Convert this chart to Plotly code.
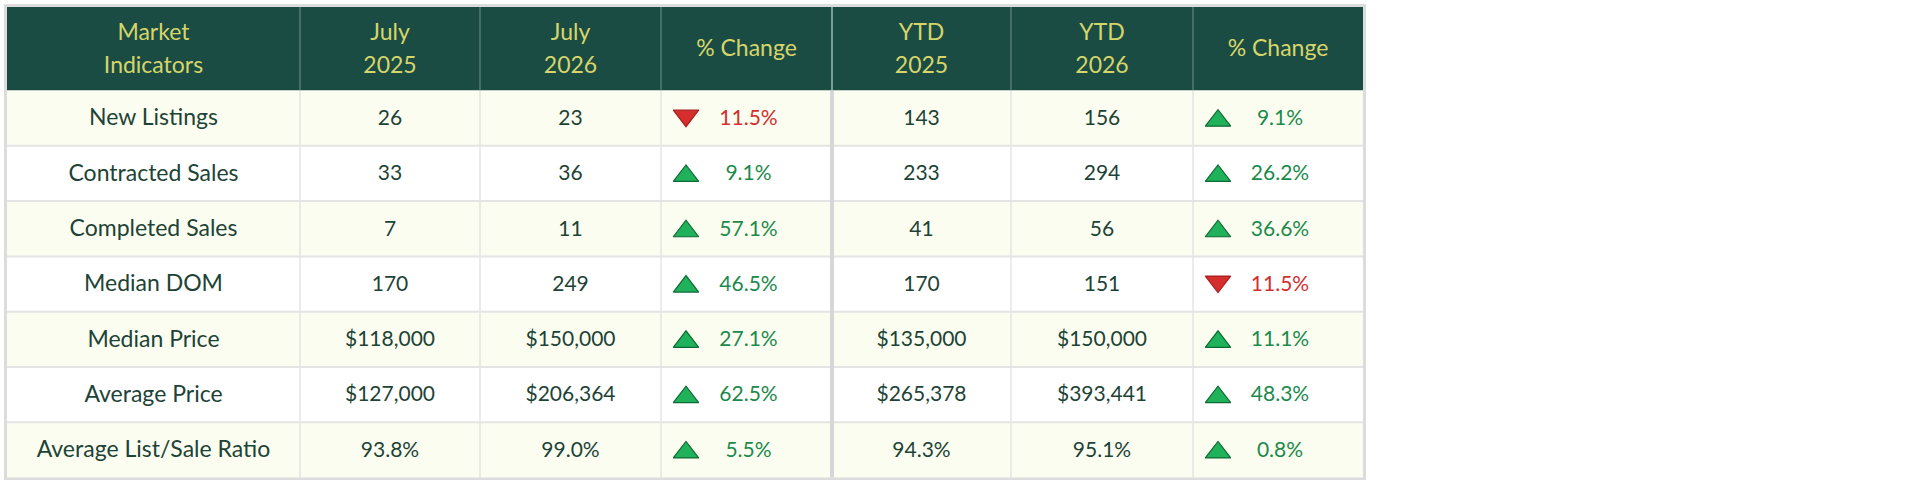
import plotly.graph_objects as go

# ---------------- data ----------------
headers = ["Market<br>Indicators", "July<br>2025", "July<br>2026", "% Change",
           "YTD<br>2025", "YTD<br>2026", "% Change"]
indicators = ["New Listings", "Contracted Sales", "Completed Sales", "Median DOM",
              "Median Price", "Average Price", "Average List/Sale Ratio"]
value_format = ["int", "int", "int", "int", "money", "money", "pct"]
july_2025 = [26, 33, 7, 170, 118000, 127000, 93.8]
july_2026 = [23, 36, 11, 249, 150000, 206364, 99.0]
july_change = [-11.5, 9.1, 57.1, 46.5, 27.1, 62.5, 5.5]
ytd_2025 = [143, 233, 41, 170, 135000, 265378, 94.3]
ytd_2026 = [156, 294, 56, 151, 150000, 393441, 95.1]
ytd_change = [9.1, 26.2, 36.6, -11.5, 11.1, 48.3, 0.8]

# ---------------- layout constants ----------------
W, H = 1920, 480
col_edges = [7, 300, 480, 661, 832, 1011, 1193, 1363]
header_top, header_bottom = 7, 90.5
row_h = 55.3
FONT = "Lato"
HEADER_BG = "#1b4c43"
HEADER_FG = "#d6d56b"
BODY_FG = "#1d4336"
UP_FG = "#1b8a4c"
DOWN_FG = "#d32f2f"
ODD_BG = "#fbfdf0"
GRID = "#e4e4e4"
TEXT_DY = 1.5


def fmt(v, kind):
    if kind == "money":
        return "${:,.0f}".format(v)
    if kind == "pct":
        return "{:.1f}%".format(v)
    return "{:d}".format(int(v))


n_rows = len(indicators)
row_tops = [header_bottom + i * row_h for i in range(n_rows)]
row_mid = [t + row_h / 2 for t in row_tops]
body_bottom = header_bottom + n_rows * row_h
col_mid = [(col_edges[i] + col_edges[i + 1]) / 2 for i in range(len(col_edges) - 1)]

shapes = []
# header background
shapes.append(dict(type="rect", x0=col_edges[0], x1=col_edges[-1], y0=header_top, y1=header_bottom,
                   fillcolor=HEADER_BG, line=dict(width=0), layer="below"))
# row backgrounds
for i, t in enumerate(row_tops):
    shapes.append(dict(type="rect", x0=col_edges[0], x1=col_edges[-1], y0=t, y1=t + row_h,
                       fillcolor=ODD_BG if i % 2 == 0 else "#ffffff", line=dict(width=0), layer="below"))
# horizontal grid lines
for t in row_tops[1:]:
    shapes.append(dict(type="line", x0=col_edges[0], x1=col_edges[-1], y0=t, y1=t,
                       line=dict(color=GRID, width=2), layer="below"))
# vertical lines
for j, x in enumerate(col_edges[1:-1], start=1):
    thick = (j == 4)
    shapes.append(dict(type="line", x0=x, x1=x, y0=header_top, y1=header_bottom,
                       line=dict(color="#7a9e95" if thick else "#5f877e", width=2 if thick else 1.2),
                       layer="below"))
    shapes.append(dict(type="line", x0=x, x1=x, y0=header_bottom, y1=body_bottom,
                       line=dict(color="#d6d6d6" if thick else GRID, width=4 if thick else 1.5),
                       layer="below"))
# outer border
shapes.append(dict(type="rect", x0=col_edges[0] - 1.5, x1=col_edges[-1] + 1.5,
                   y0=header_top - 1.5, y1=body_bottom + 1.5,
                   fillcolor="rgba(0,0,0,0)", line=dict(color="#dcdcdc", width=3)))

fig = go.Figure()

# header text
hx, hy, ht = [], [], []
mid = (header_top + header_bottom) / 2 + TEXT_DY
for j, h in enumerate(headers):
    parts = h.split("<br>")
    if len(parts) == 1:
        hx.append(col_mid[j]); hy.append(mid); ht.append(parts[0])
    else:
        for k, p in enumerate(parts):
            hx.append(col_mid[j]); hy.append(mid + (k - 0.5) * 33); ht.append(p)
fig.add_trace(go.Scatter(x=hx, y=hy, text=ht, mode="text", textposition="middle center",
                         textfont=dict(family=FONT, size=23, color=HEADER_FG),
                         hoverinfo="skip", showlegend=False))

# indicator labels
fig.add_trace(go.Scatter(x=[col_mid[0]] * n_rows, y=[m + TEXT_DY for m in row_mid], text=indicators,
                         mode="text", textposition="middle center",
                         textfont=dict(family=FONT, size=23, color=BODY_FG),
                         hoverinfo="skip", showlegend=False))

# value columns
value_cols = [(1, july_2025), (2, july_2026), (4, ytd_2025), (5, ytd_2026)]
bx, by, bt = [], [], []
for c, vals in value_cols:
    for i, v in enumerate(vals):
        bx.append(col_mid[c]); by.append(row_mid[i] + TEXT_DY); bt.append(fmt(v, value_format[i]))
fig.add_trace(go.Scatter(x=bx, y=by, text=bt, mode="text", textposition="middle center",
                         textfont=dict(family=FONT, size=21, color=BODY_FG),
                         hoverinfo="skip", showlegend=False))

# percent change columns
for c, vals in [(3, july_change), (6, ytd_change)]:
    up = [v >= 0 for v in vals]
    fig.add_trace(go.Scatter(
        x=[col_mid[c] + 2] * n_rows, y=[m + TEXT_DY for m in row_mid],
        text=["{:.1f}%".format(abs(v)) for v in vals], mode="text", textposition="middle center",
        textfont=dict(family=FONT, size=21, color=[UP_FG if u else DOWN_FG for u in up]),
        hoverinfo="skip", showlegend=False))
    fig.add_trace(go.Scatter(
        x=[col_edges[c] + 25] * n_rows,
        y=[m + (2.5 if u else -2.5) for m, u in zip(row_mid, up)],
        mode="markers",
        marker=dict(symbol=["triangle-up" if u else "triangle-down" for u in up], size=22,
                    color=["#20b25a" if u else "#d62d2d" for u in up],
                    line=dict(color=["#0e6a34" if u else "#a81e1e" for u in up], width=1.2)),
        hoverinfo="skip", showlegend=False))

fig.update_layout(
    width=W, height=H, margin=dict(l=0, r=0, t=0, b=0),
    paper_bgcolor="#ffffff", plot_bgcolor="#ffffff",
    shapes=shapes,
    xaxis=dict(range=[0, W], visible=False, fixedrange=True),
    yaxis=dict(range=[H, 0], visible=False, fixedrange=True),
)

fig.write_html("out.html", config={"displayModeBar": False},
               post_script="document.body.style.margin='0';document.body.style.overflow='hidden';")
